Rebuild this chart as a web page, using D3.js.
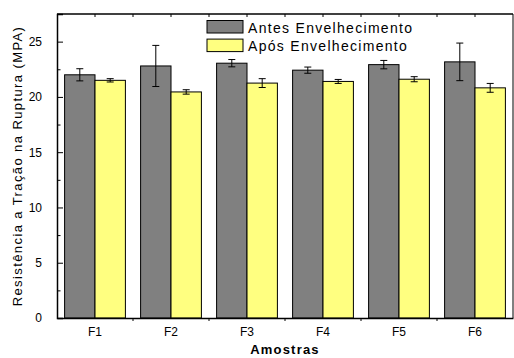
<!DOCTYPE html>
<html>
<head>
<meta charset="utf-8">
<script src="https://cdn.jsdelivr.net/npm/d3@7/dist/d3.min.js"></script>
<style>
  body { margin: 0; background: #fff; }
  svg { display: block; font-family: 'Liberation Sans', Arial, sans-serif; }
</style>
</head>
<body>
<svg id="chart" width="514" height="358"></svg>
<script>
const samples = ['F1', 'F2', 'F3', 'F4', 'F5', 'F6'];
const before = [22.0, 22.8, 23.05, 22.42, 22.92, 23.17];
const before_err = [0.55, 1.86, 0.33, 0.28, 0.38, 1.7];
const after = [21.5, 20.45, 21.25, 21.4, 21.6, 20.82];
const after_err = [0.15, 0.2, 0.4, 0.18, 0.23, 0.4];
const series_names = ['Antes Envelhecimento', 'Após Envelhecimento'];
const y_ticks = [0, 5, 10, 15, 20, 25];

const margin = { top: 14, right: 1, bottom: 40, left: 57 };
const svg = d3.select('#chart');
const W = +svg.attr('width');
const H = +svg.attr('height');
const width = W - margin.left - margin.right;
const height = H - margin.top - margin.bottom;
const colors = ['#808080', '#ffff80'];

const g = svg.append('g').attr('transform', `translate(${margin.left},${margin.top})`);

const x = d3.scaleBand().domain(samples).range([0, width]).padding(0);
const y = d3.scaleLinear().domain([0, 27.5]).range([height, 0]);
const barW = x.bandwidth() * 0.4;

const rows = samples.map((s, i) => ({
  s,
  vals: [
    { k: 0, v: before[i], e: before_err[i] },
    { k: 1, v: after[i], e: after_err[i] }
  ]
}));

// bars
const groups = g.selectAll('.grp').data(rows).join('g')
  .attr('class', 'grp')
  .attr('transform', d => `translate(${x(d.s) + x.bandwidth() / 2},0)`);

groups.selectAll('rect').data(d => d.vals).join('rect')
  .attr('x', d => d.k === 0 ? -barW : 0)
  .attr('y', d => y(d.v))
  .attr('width', barW)
  .attr('height', d => y(0) - y(d.v))
  .attr('fill', d => colors[d.k])
  .attr('stroke', '#000')
  .attr('stroke-width', 1);

// error bars
const eb = groups.selectAll('.err').data(d => d.vals).join('g')
  .attr('class', 'err')
  .attr('transform', d => `translate(${d.k === 0 ? -barW / 2 : barW / 2},0)`)
  .attr('stroke', '#000')
  .attr('stroke-width', 1);
eb.append('line').attr('y1', d => y(d.v - d.e)).attr('y2', d => y(d.v + d.e));
eb.append('line').attr('x1', -3.5).attr('x2', 3.5).attr('y1', d => y(d.v - d.e)).attr('y2', d => y(d.v - d.e));
eb.append('line').attr('x1', -3.5).attr('x2', 3.5).attr('y1', d => y(d.v + d.e)).attr('y2', d => y(d.v + d.e));

// axes
const axisY = g.append('g').attr('class', 'axis-y')
  .call(d3.axisLeft(y).tickValues(y_ticks).tickSize(-6).tickPadding(15));
axisY.selectAll('text').attr('font-size', 12).attr('fill', '#000').attr('font-family', 'Liberation Sans, Arial, sans-serif');
axisY.select('.domain').attr('stroke-width', 1.5);

g.append('g')
  .call(d3.axisLeft(y).tickValues(d3.range(2.5, 27.5, 5)).tickSize(-3.5).tickFormat(''))
  .select('.domain').remove();

const axisX = g.append('g').attr('transform', `translate(0,${height})`)
  .call(d3.axisBottom(x).tickSize(0).tickPadding(9));
axisX.selectAll('text').attr('font-size', 12).attr('fill', '#000').attr('font-family', 'Liberation Sans, Arial, sans-serif');
axisX.select('.domain').attr('stroke-width', 1.5);

// boundary ticks on bottom axis
g.append('g').selectAll('line').data(samples.slice(1)).join('line')
  .attr('x1', d => x(d)).attr('x2', d => x(d))
  .attr('y1', height).attr('y2', height + 3)
  .attr('stroke', '#000');

// top frame with ticks
g.append('line').attr('x1', 0).attr('x2', width).attr('y1', 0).attr('y2', 0)
  .attr('stroke', '#000').attr('stroke-width', 1.5);
g.append('g').selectAll('line')
  .data(samples.flatMap(s => [x(s), x(s) + x.bandwidth() / 2]).slice(1))
  .join('line')
  .attr('x1', d => d).attr('x2', d => d).attr('y1', 0).attr('y2', 3)
  .attr('stroke', '#000');
g.append('line').attr('x1', width).attr('x2', width).attr('y1', 0).attr('y2', height)
  .attr('stroke', '#000').attr('stroke-width', 1);

// axis titles
svg.append('text')
  .attr('x', margin.left + width / 2)
  .attr('y', 354)
  .attr('text-anchor', 'middle')
  .attr('font-weight', 'bold')
  .attr('font-size', 13)
  .attr('letter-spacing', 1.2)
  .text('Amostras');

svg.append('text')
  .attr('transform', `translate(22,${margin.top + height / 2}) rotate(-90)`)
  .attr('text-anchor', 'middle')
  .attr('font-size', 13)
  .attr('letter-spacing', 1.4)
  .text('Resistência a Tração na Ruptura (MPA)');

// legend
const legend = svg.append('g').attr('transform', 'translate(207,20.5)');
const li = legend.selectAll('g').data(series_names).join('g')
  .attr('transform', (d, i) => `translate(0,${i * 18.6})`);
li.append('rect').attr('width', 36).attr('height', 12.5)
  .attr('fill', (d, i) => colors[i]).attr('stroke', '#000');
li.append('text').attr('x', 41).attr('y', 12)
  .attr('font-size', 14).attr('letter-spacing', 1.3)
  .text(d => d);
</script>
</body>
</html>
